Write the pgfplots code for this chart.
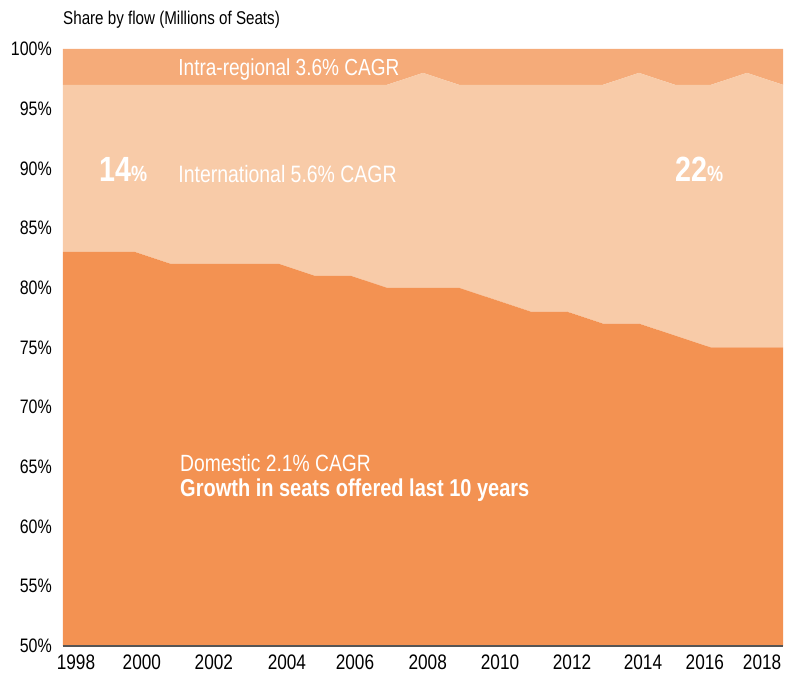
\documentclass[border=0pt]{standalone}
\usepackage{pgfplots}
\pgfplotsset{compat=1.18}
\usepackage{pgfplotstable}
\usepackage{fontspec}
\setmainfont[FakeStretch=0.82]{Liberation Sans}
\definecolor{dom}{RGB}{243,146,82}
\definecolor{intl}{RGB}{248,203,168}
\definecolor{intra}{RGB}{245,171,121}
\definecolor{axisgray}{RGB}{85,85,85}
\newcommand{\fs}[1]{\fontsize{#1}{#1}\selectfont}
\pgfplotstableread{
year dom intl intra
1998 83 14 3
1999 83 14 3
2000 83 14 3
2001 82 15 3
2002 82 15 3
2003 82 15 3
2004 82 15 3
2005 81 16 3
2006 81 16 3
2007 80 17 3
2008 80 18 2
2009 80 17 3
2010 79 18 3
2011 78 19 3
2012 78 19 3
2013 77 20 3
2014 77 21 2
2015 76 21 3
2016 75 22 3
2017 75 23 2
2018 75 22 3
}\flowdata
\begin{document}
\begin{tikzpicture}
\path[use as bounding box] (-63pt,-30pt) rectangle (722pt,646pt);
\begin{axis}[
  at={(0pt,0pt)}, anchor=south west,
  scale only axis, width=720pt, height=597pt,
  xmin=1998, xmax=2018, ymin=50, ymax=100,
  stack plots=y,
  axis on top,
  axis lines=left,
  x axis line style={-, draw=axisgray, line width=1.3pt},
  y axis line style={draw=none},
  tick style={draw=none},
  major tick length=0pt,
  xtick={1998.36,2000.19,2002.19,2004.22,2006.11,2008.13,2010.14,2012.14,2014.11,2015.83,2017.42},
  xticklabels={1998,2000,2002,2004,2006,2008,2010,2012,2014,2016,2018},
  ytick={50,55,60,65,70,75,80,85,90,95,100},
  yticklabels={50\%,55\%,60\%,65\%,70\%,75\%,80\%,85\%,90\%,95\%,100\%},
  xticklabel style={font=\fs{21}, anchor=north, inner sep=0pt, yshift=-8.5pt},
  yticklabel style={font=\fs{19.5}, anchor=east, inner sep=0pt, xshift=-11pt},
]
\addplot[draw=none, fill=dom] table[x=year, y=dom] {\flowdata} \closedcycle;
\addplot[draw=none, fill=intl] table[x=year, y=intl] {\flowdata} \closedcycle;
\addplot[draw=none, fill=intra] table[x=year, y=intra] {\flowdata} \closedcycle;
\coordinate (lintra) at (axis cs:2001.2,97.74);
\coordinate (lintl) at (axis cs:2001.2,88.80);
\coordinate (l14) at (axis cs:1999.0,88.89);
\coordinate (l22) at (axis cs:2015.0,88.94);
\coordinate (ldom) at (axis cs:2001.25,64.60);
\coordinate (lgrow) at (axis cs:2001.25,62.56);
\end{axis}
\node[anchor=base west, inner sep=0pt, text=white, font=\fs{23.2}] at (lintra) {Intra-regional 3.6\% CAGR};
\node[anchor=base west, inner sep=0pt, text=white, font=\fs{23.7}] at (lintl) {International 5.6\% CAGR};
\node[anchor=base west, inner sep=0pt, text=white, font=\bfseries\fs{35}] at (l14) {14{\fs{22}\%}};
\node[anchor=base west, inner sep=0pt, text=white, font=\bfseries\fs{35}] at (l22) {22{\fs{22}\%}};
\node[anchor=base west, inner sep=0pt, text=white, font=\fs{23.5}] at (ldom) {Domestic 2.1\% CAGR};
\node[anchor=base west, inner sep=0pt, text=white, font=\bfseries\fs{24.4}] at (lgrow) {Growth in seats offered last 10 years};
\node[anchor=base west, inner sep=0pt, font=\fs{18.5}] at (0pt,621pt) {Share by flow (Millions of Seats)};
\end{tikzpicture}
\end{document}
